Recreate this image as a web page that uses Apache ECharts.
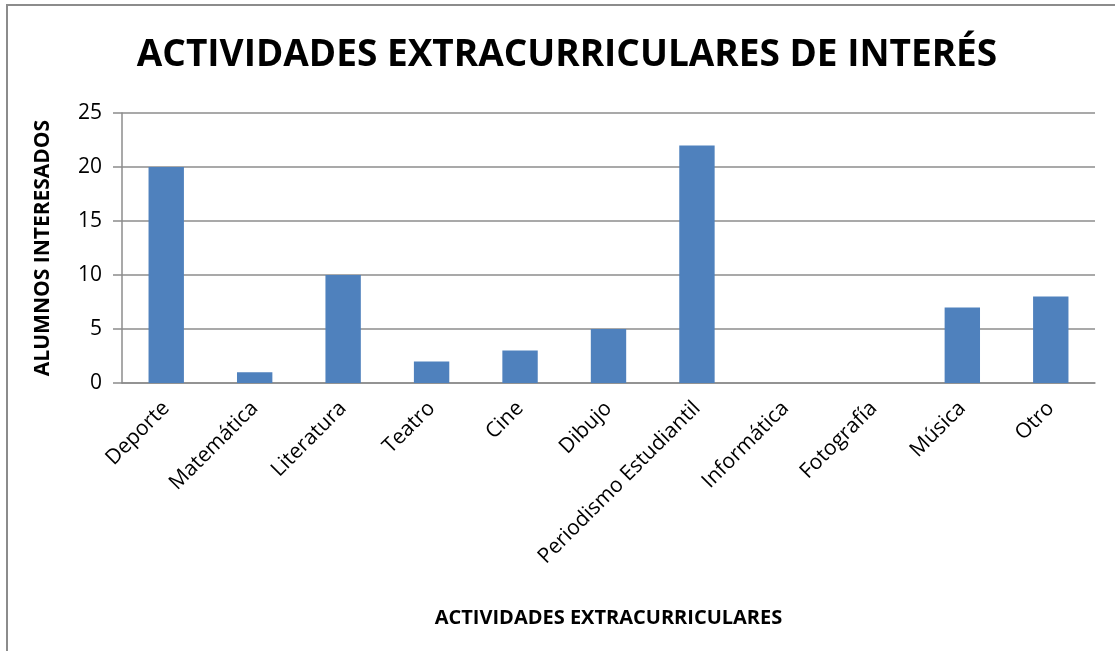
<!DOCTYPE html>
<html>
<head>
<meta charset="UTF-8">
<script src="https://cdn.jsdelivr.net/npm/echarts@6/dist/echarts.min.js"></script>
<style>
  html, body { margin: 0; padding: 0; background: #fff; }
  #frame { position: absolute; left: 6px; top: 4px; width: 1200px; height: 700px; border: 2px solid #8c8c8c; }
  #main { position: absolute; left: 0; top: 0; width: 1115px; height: 651px; }
</style>
</head>
<body>
<div id="frame"></div>
<div id="main"></div>
<script>
  var categories = ['Deporte', 'Matemática', 'Literatura', 'Teatro', 'Cine', 'Dibujo',
    'Periodismo Estudiantil', 'Informática', 'Fotografía', 'Música', 'Otro'];
  var alumnos = [20, 1, 10, 2, 3, 5, 22, 0, 0, 7, 8];
  var yTicks = [0, 5, 10, 15, 20, 25];

  var chart = echarts.init(document.getElementById('main'));
  chart.setOption({
    animation: false,
    title: {
      text: 'ACTIVIDADES EXTRACURRICULARES DE INTERÉS',
      left: 562, top: 32, textAlign: 'center',
      textStyle: { fontFamily: 'Open Sans', fontWeight: 'bold', fontSize: 37, color: '#000' }
    },
    grid: { left: 122, right: 20, top: 113, bottom: 268 },
    xAxis: {
      type: 'category',
      data: categories,
      name: 'ACTIVIDADES EXTRACURRICULARES',
      nameLocation: 'middle',
      nameGap: 225,
      nameTextStyle: { fontFamily: 'Open Sans', fontWeight: 'bold', fontSize: 20, color: '#000' },
      axisLine: { lineStyle: { color: '#8c8c8c', width: 1.5 } },
      axisTick: { show: false },
      axisLabel: { rotate: 45, interval: 0, margin: 22, fontFamily: 'Open Sans', fontSize: 21, color: '#000' }
    },
    yAxis: {
      type: 'value',
      min: yTicks[0], max: yTicks[yTicks.length - 1], interval: 5,
      name: 'ALUMNOS INTERESADOS',
      nameLocation: 'middle',
      nameGap: 68,
      nameTextStyle: { fontFamily: 'Open Sans', fontWeight: 'bold', fontSize: 21, color: '#000' },
      axisLine: { show: true, lineStyle: { color: '#8c8c8c', width: 1.5 } },
      axisTick: { show: true, length: 9, lineStyle: { color: '#8c8c8c', width: 1.5 } },
      axisLabel: { margin: 20, fontFamily: 'Open Sans', fontSize: 21, color: '#000' },
      splitLine: { lineStyle: { color: '#8c8c8c', width: 1.5 } }
    },
    series: [{
      type: 'bar',
      data: alumnos,
      barWidth: '40%',
      itemStyle: { color: '#4f81bd' }
    }]
  });
</script>
</body>
</html>
